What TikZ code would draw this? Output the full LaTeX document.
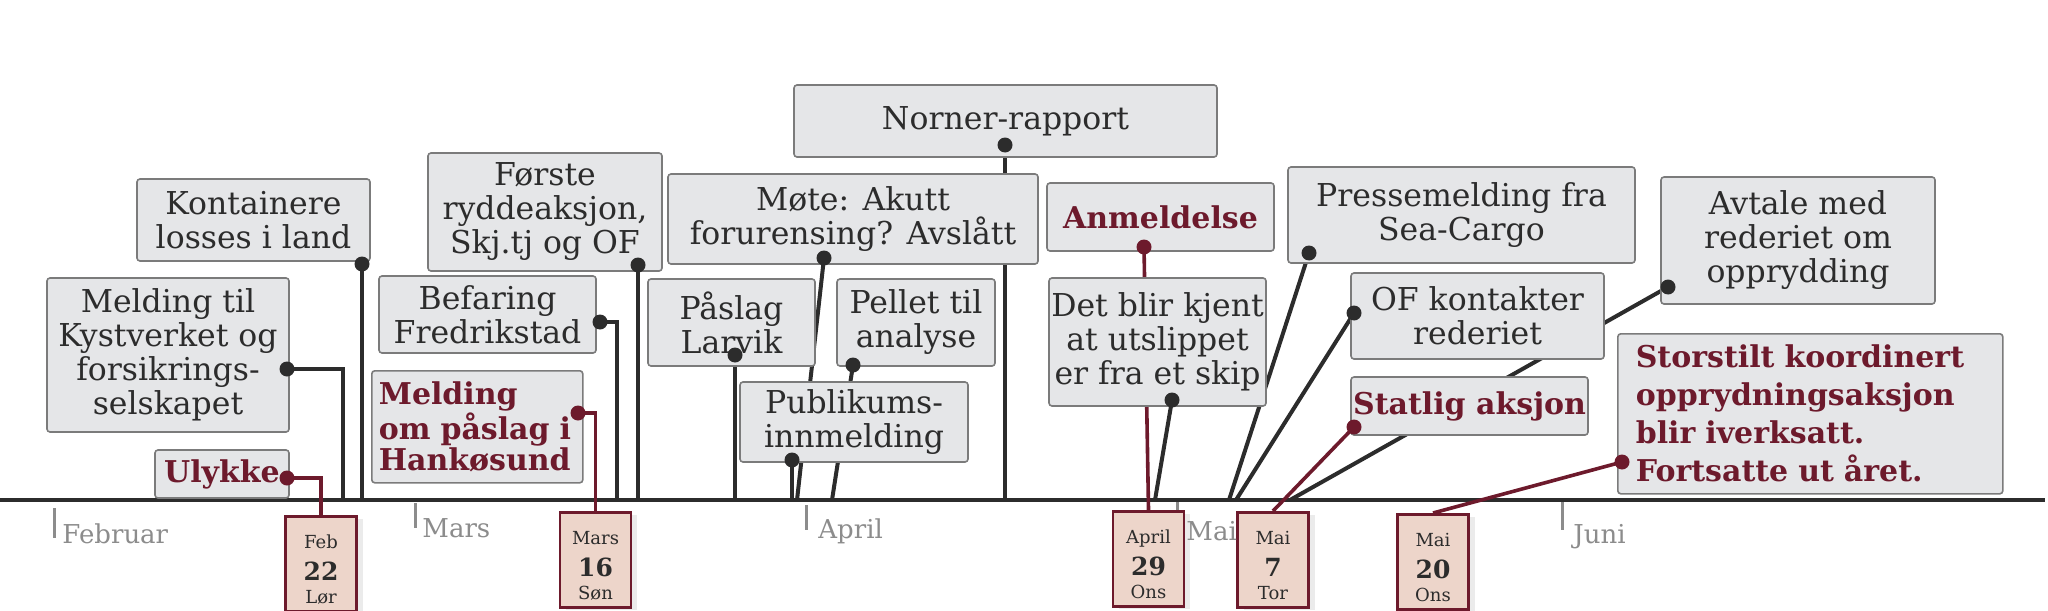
\documentclass[tikz,border=0pt]{standalone}
\usepackage{fontspec}
\setmainfont{DejaVu Serif}
\usetikzlibrary{backgrounds}
\usetikzlibrary{shadows}

\definecolor{boxfill}{HTML}{E5E6E8}
\definecolor{boxline}{HTML}{7B7B7B}
\definecolor{ink}{HTML}{2C2C2C}
\definecolor{wine}{HTML}{6D1A2C}
\definecolor{datefill}{HTML}{EDD5CA}
\definecolor{monthgray}{HTML}{8C8C8C}

\tikzset{
  event/.style={draw=boxline, fill=boxfill, line width=0.8pt, rounded corners=1.5pt,
    inner sep=0pt, align=center, text=ink, font=\fontsize{15.75}{17}\selectfont},
  redevent/.style={event, text=wine, font=\fontsize{15}{15.5}\selectfont\bfseries},
  datebox/.style={draw=wine, fill=datefill, line width=1.4pt, minimum width=35.5pt,
    minimum height=47.5pt, inner sep=0pt, anchor=north, align=center, text=ink,
    font=\fontsize{9}{16}\selectfont,
    drop shadow={opacity=0.16, shadow xshift=3pt, shadow yshift=-1.5pt}},
  eventdot/.style={circle, fill=ink, inner sep=0pt, minimum size=7.5pt},
  reddot/.style={eventdot, fill=wine},
  link/.style={draw=ink, line width=2pt},
  redlink/.style={draw=wine, line width=1.8pt},
  monthtick/.style={draw=monthgray, line width=1.5pt},
  monthlabel/.style={anchor=base west, text=monthgray, inner sep=0pt,
    font=\fontsize{13}{15}\selectfont},
}
\newcommand{\daynum}[1]{{\fontsize{12.5}{16}\selectfont\bfseries #1}}

\begin{document}
\begin{tikzpicture}[x=0.5pt, y=-0.5pt]

\useasboundingbox (0,0) rectangle (2048,610);

% event boxes
\node[event, minimum width=116.5pt, minimum height=41pt] (kont) at (253.5,220) {Kontainere\\losses i land};
\node[event, minimum width=121pt, minimum height=77pt] (meld) at (168,355) {Melding til\\Kystverket og\\forsikrings-\\selskapet};
\node[redevent, minimum width=67pt, minimum height=24pt] (ulykke) at (222,474) {Ulykke};
\node[event, minimum width=117pt, minimum height=59pt] (forste) at (545,212) {Første\\ryddeaksjon,\\Skj.tj og OF};
\node[event, minimum width=108.5pt, minimum height=38.5pt] (befaring) at (487.5,314.5) {Befaring\\Fredrikstad};
\node[redevent, anchor=north west, align=left, inner xsep=3.5pt, text width=98.5pt, minimum height=56pt] (paaslag) at (371,370) {Melding\\om påslag i\\Hankøsund};
\node[event, minimum width=83.5pt, minimum height=43.5pt] (larvik) at (731.5,322.5) {Påslag\\Larvik};
\node[event, minimum width=185pt, minimum height=45pt] (mote) at (853,219) {Møte: Akutt\\forurensing? Avslått};
\node[event, minimum width=211.5pt, minimum height=36pt] (norner) at (1005.5,121) {Norner-rapport};
\node[event, minimum width=79pt, minimum height=43.5pt] (pellet) at (916,322.5) {Pellet til\\analyse};
\node[event, minimum width=114pt, minimum height=40pt] (publikum) at (854,422) {Publikums-\\innmelding};
\node[redevent, minimum width=113.5pt, minimum height=34pt] (anmeld) at (1160.5,217) {Anmeldelse};
\node[event, minimum width=108.5pt, minimum height=64pt] (detblir) at (1157.5,342) {Det blir kjent\\at utslippet\\er fra et skip};
\node[event, minimum width=173.5pt, minimum height=48pt] (presse) at (1461.5,215) {Pressemelding fra\\Sea-Cargo};
\node[event, minimum width=126.5pt, minimum height=43pt] (ofk) at (1477.5,316) {OF kontakter\\rederiet};
\node[redevent, minimum width=118.5pt, minimum height=29pt] (statlig) at (1469.5,406) {Statlig aksjon};
\node[event, minimum width=137pt, minimum height=63.5pt] (avtale) at (1798,240.5) {Avtale med\\rederiet om\\opprydding};
\node[redevent, anchor=north west, align=left, inner xsep=9pt, text width=174.5pt, minimum height=80pt,
  font=\fontsize{15}{19}\selectfont\bfseries] (storstilt) at (1617,333) {Storstilt koordinert\\opprydningsaksjon\\blir iverksatt.\\Fortsatte ut året.};

% date boxes
\node[datebox] (feb22) at (321,515) {\rule{0pt}{12.3pt}Feb\\\daynum{22}\\[-4.5pt]Lør};
\node[datebox] (mars16) at (595.5,511) {\rule{0pt}{12.3pt}Mars\\\daynum{16}\\[-4.5pt]Søn};
\node[datebox] (apr29) at (1148.5,510) {\rule{0pt}{12.3pt}April\\\daynum{29}\\[-4.5pt]Ons};
\node[datebox] (mai7) at (1273,511) {\rule{0pt}{12.3pt}Mai\\\daynum{7}\\[-4.5pt]Tor};
\node[datebox] (mai20) at (1433,513) {\rule{0pt}{12.3pt}Mai\\\daynum{20}\\[-4.5pt]Ons};

% dots on the boxes
\node[eventdot] (kontdot) at (362,264) {};
\node[eventdot] (meldot) at (287,369) {};
\node[reddot] (ulydot) at (287,478) {};
\node[eventdot] (forstedot) at (638,265) {};
\node[eventdot] (befdot) at (600,322) {};
\node[reddot] (paadot) at (578,413) {};
\node[eventdot] (larvdot) at (735,355) {};
\node[eventdot] (motedot) at (824,258) {};
\node[eventdot] (nornerdot) at (1005,145) {};
\node[eventdot] (pelldot) at (853,365) {};
\node[eventdot] (pubdot) at (792,460) {};
\node[reddot] (anmdot) at (1144,247) {};
\node[eventdot] (detdot) at (1172,400) {};
\node[eventdot] (pressedot) at (1309,253) {};
\node[eventdot] (ofkdot) at (1354,313) {};
\node[reddot] (statdot) at (1354,427) {};
\node[eventdot] (avtdot) at (1668,287) {};
\node[reddot] (stordot) at (1622,462) {};

% months
\node[monthlabel] (februar) at (62,543) {Februar};
\node[monthlabel] (mars) at (422,537) {Mars};
\node[monthlabel] (april) at (818,538) {April};
\node[monthlabel] (mai) at (1186,540) {Mai};
\node[monthlabel] (juni) at (1573,543) {Juni};

% ends on the time line
\coordinate (axisstart) at (0,500);
\coordinate (axisend) at (2045,500);
\coordinate (kontend) at (362,500);
\coordinate (meldend) at (343,500);
\coordinate (forsteend) at (638,500);
\coordinate (befend) at (617,500);
\coordinate (larvend) at (735,500);
\coordinate (moteend) at (797,500);
\coordinate (nornerend) at (1005,500);
\coordinate (pellend) at (832,500);
\coordinate (pubend) at (792,500);
\coordinate (detend) at (1155,500);
\coordinate (presseend) at (1229,500);
\coordinate (ofkend) at (1236,500);
\coordinate (avtend) at (1290,500);

\begin{pgfonlayer}{background}
\draw[monthtick] (54,508) -- (54,538);
\draw[monthtick] (415,503) -- (415,528);
\draw[monthtick] (806,505) -- (806,530);
\draw[monthtick] (1177,500) -- (1177,530);
\draw[monthtick] (1562,498) -- (1562,530);

\draw[draw=ink, line width=2.2pt] (axisstart) -- (axisend);

\draw[link] (kontdot.center) -- (kontend);
\draw[link] (meldot.center) -| (meldend);
\draw[link] (forstedot.center) -- (forsteend);
\draw[link] (befdot.center) -| (befend);
\draw[link] (larvdot.center) -- (larvend);
\draw[link] (motedot.center) -- (moteend);
\draw[link] (nornerdot.center) -- (nornerend);
\draw[link] (pelldot.center) -- (pellend);
\draw[link] (pubdot.center) -- (pubend);
\draw[link] (detdot.center) -- (detend);
\draw[link] (pressedot.center) -- (presseend);
\draw[link] (ofkdot.center) -- (ofkend);
\draw[link] (avtdot.center) -- (avtend);

\draw[redlink] (ulydot.center) -| (feb22.north);
\draw[redlink] (paadot.center) -| (mars16.north);
\draw[redlink] (anmdot.center) -- (apr29.north);
\draw[redlink] (statdot.center) -- (mai7.north);
\draw[redlink] (stordot.center) -- (mai20.north);
\end{pgfonlayer}

\end{tikzpicture}
\end{document}
